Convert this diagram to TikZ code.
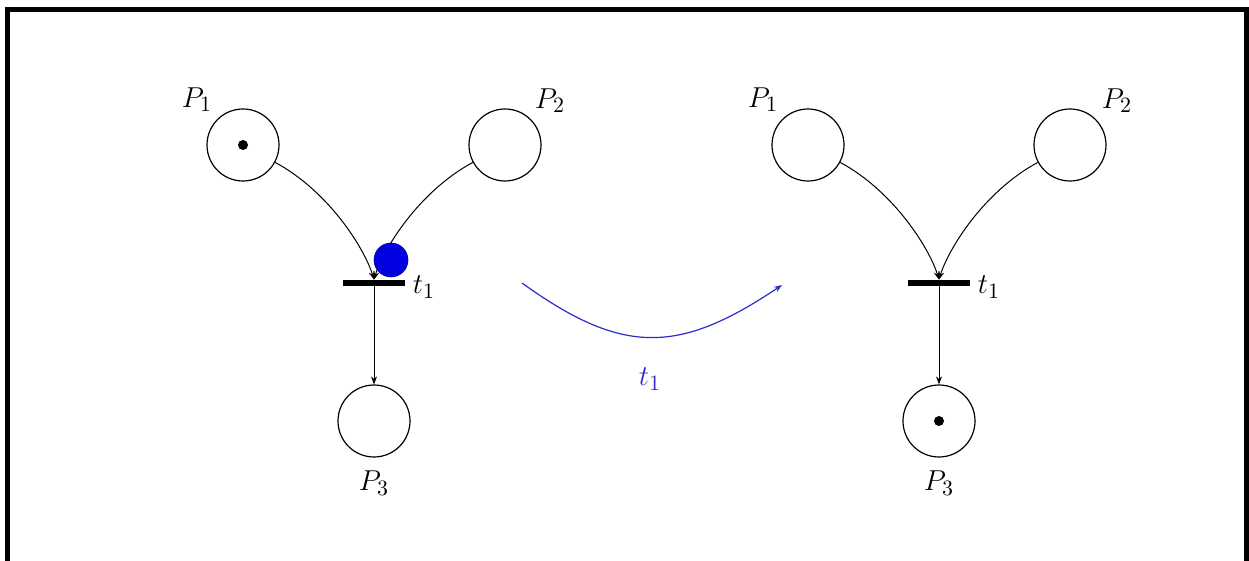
\documentclass[tikz,border=0pt]{standalone}
\usetikzlibrary{arrows.meta}
\definecolor{tokblue}{RGB}{0,0,225}
\definecolor{arcblue}{RGB}{45,45,205}
\begin{document}
\begin{tikzpicture}[x=0.5pt,y=-0.5pt,
  place/.style={circle,draw,line width=0.6pt,minimum size=36pt,inner sep=0pt},
  token/.style={circle,fill,minimum size=5pt,inner sep=0pt},
  trans/.style={rectangle,fill,minimum width=31pt,minimum height=3pt,inner sep=0pt},
  lbl/.style={font=\fontsize{15.5pt}{18pt}\selectfont,inner sep=0pt},
  arc/.style={line width=0.5pt,-{Stealth[length=4pt,width=3pt]}},
  ]
\useasboundingbox (0,0) rectangle (1249,561);
\clip (0,0) rectangle (1249,561);
\fill[white] (0,0) rectangle (1249,561);
\draw[line width=2.5pt] (7.5,590) -- (7.5,9.5) -- (1246.5,9.5) -- (1246.5,590);

% ---- left net (before firing)
\node[place] (p1) at (243,145) {};
\node[token] (k1) at (243,145) {};
\node[place] (p2) at (505,145) {};
\node[trans] (t1) at (374,283) {};
\node[place] (p3) at (374,421) {};
\node[lbl] (lp1) at (197,100) {$P_1$};
\node[lbl] (lp2) at (550,101) {$P_2$};
\node[lbl] (lt1) at (424,287) {$t_1$};
\node[lbl] (lp3) at (374,483) {$P_3$};
\draw[arc] (p1) .. controls (330,192) and (365,250) .. (t1.north);
\draw[arc] (p2) .. controls (418,192) and (383,250) .. (t1.north);
\draw[arc] (t1) -- (p3);
\node[circle,fill=tokblue,draw=tokblue!70!black,line width=0.3pt,minimum size=17pt,inner sep=0pt] (bt) at (391,260) {};

% ---- firing arrow
\coordinate (a1) at (522,283);
\coordinate (a2) at (782,285);
\draw[arc,draw=arcblue,line width=0.6pt] (a1) .. controls (622,355) and (678,355) .. (a2);
\node[lbl,text=arcblue] (lf) at (650,379) {$t_1$};

% ---- right net (after firing)
\node[place] (q1) at (808,145) {};
\node[place] (q2) at (1070,145) {};
\node[trans] (s1) at (939,283) {};
\node[place] (q3) at (939,421) {};
\node[token] (k3) at (939,421) {};
\node[lbl] (lq1) at (763,100) {$P_1$};
\node[lbl] (lq2) at (1117,101) {$P_2$};
\node[lbl] (ls1) at (989,287) {$t_1$};
\node[lbl] (lq3) at (939,483) {$P_3$};
\draw[arc] (q1) .. controls (895,192) and (930,250) .. (s1.north);
\draw[arc] (q2) .. controls (983,192) and (948,250) .. (s1.north);
\draw[arc] (s1) -- (q3);
\end{tikzpicture}
\end{document}
